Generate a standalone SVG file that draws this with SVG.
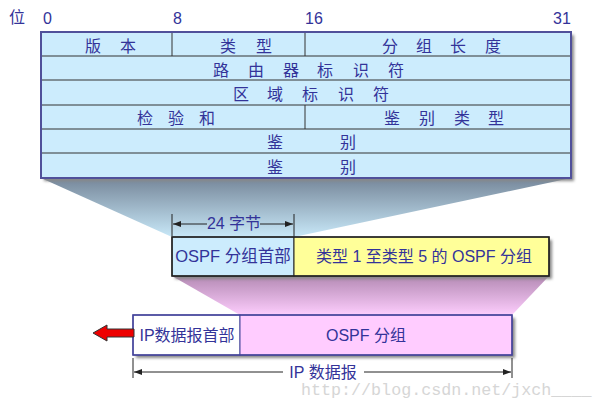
<svg xmlns="http://www.w3.org/2000/svg" width="602" height="408" viewBox="0 0 602 408">
<defs>
<style>
.t{font-family:"Liberation Sans","Noto Sans CJK SC",sans-serif;font-size:16px;fill:#333399;}
.c{text-anchor:middle;}
.ln{stroke:#333;stroke-width:1;fill:none;}
.dim{stroke:#222;stroke-width:1;fill:none;}
.wm{font-family:"Liberation Mono",monospace;font-size:16.7px;fill:#d6d6d6;}
</style>
<linearGradient id="gBlue" gradientUnits="userSpaceOnUse" x1="0" y1="178" x2="0" y2="237">
<stop offset="0" stop-color="#76879a"/>
<stop offset="1" stop-color="#c8e8f8"/>
</linearGradient>
<linearGradient id="gPink" gradientUnits="userSpaceOnUse" x1="0" y1="276" x2="0" y2="315">
<stop offset="0" stop-color="#b48ab4"/>
<stop offset="1" stop-color="#fdcdfd"/>
</linearGradient>
<filter id="sh" x="-10%" y="-10%" width="130%" height="140%">
<feGaussianBlur stdDeviation="1.5"/>
</filter>
<marker id="ah" viewBox="0 0 8 6" refX="8" refY="3" markerWidth="8" markerHeight="6" orient="auto-start-reverse" markerUnits="userSpaceOnUse">
<path d="M0,0 L8,3 L0,6 Z" fill="#222"/>
</marker>
</defs>
<rect width="602" height="408" fill="#fff"/>

<g id="bits">
<text class="t" x="9" y="23">位</text>
<text class="t" x="43" y="24">0</text>
<text class="t" x="173" y="24">8</text>
<text class="t" x="305" y="24">16</text>
<text class="t" x="553" y="24">31</text>
</g>

<g id="funnels">
<polygon points="41,178 571,178 294,237 172,237" fill="url(#gBlue)"/>
<polygon points="172,276 549,276 512,315 240,315" fill="url(#gPink)"/>
</g>

<g id="ospf-header-table">
<rect x="44" y="35" width="530" height="146" fill="#888" filter="url(#sh)"/>
<rect x="41" y="32" width="530" height="146" fill="#ccecfd"/>
<path class="ln" d="M41,56H571M41,80H571M41,105H571M41,129H571M41,153H571M172,32V56M305,32V56M305,105V129"/>
<rect x="41" y="32" width="530" height="146" fill="none" stroke="#50509a" stroke-width="2"/>
<text class="t c" x="93 128" y="51.5">版本</text>
<text class="t c" x="228 264" y="51.5">类型</text>
<text class="t c" x="390 424 458 493" y="51.5">分组长度</text>
<text class="t c" x="221 256 291 325 361 396" y="75.5">路由器标识符</text>
<text class="t c" x="241 275 310 346 381" y="99.5">区域标识符</text>
<text class="t c" x="145 176 207" y="124">检验和</text>
<text class="t c" x="392 427 462 496" y="124">鉴别类型</text>
<text class="t c" x="275 348" y="148">鉴别</text>
<text class="t c" x="275 348" y="172.5">鉴别</text>
</g>

<g id="ospf-packet">
<rect x="175" y="240" width="377" height="39" fill="#888" filter="url(#sh)"/>
<rect x="172" y="237" width="122" height="39" fill="#ccecfd" stroke="#222" stroke-width="1"/>
<rect x="294" y="237" width="255" height="39" fill="#ffff99" stroke="#222" stroke-width="1"/>
<rect x="172" y="237" width="377" height="39" fill="none" stroke="#222" stroke-width="1.5"/>
<text class="t c" x="233" y="262" style="font-size:16.5px">OSPF 分组首部</text>
<text class="t c" x="424" y="262">类型 1 至类型 5 的 OSPF 分组</text>
</g>

<g id="ip-datagram">
<rect x="136" y="318" width="379" height="40" fill="#888" filter="url(#sh)"/>
<rect x="133" y="315" width="107" height="40" fill="#ffffff" stroke="#44449a" stroke-width="1"/>
<rect x="240" y="315" width="272" height="40" fill="#ffccff" stroke="#44449a" stroke-width="1"/>
<rect x="133" y="315" width="379" height="40" fill="none" stroke="#44449a" stroke-width="1.5"/>
<text class="t c" x="187" y="341">IP数据报首部</text>
<text class="t c" x="366" y="341">OSPF 分组</text>
</g>

<g id="connectors">
<polygon points="93,333 107,325 107,329 134,329 134,337 107,337 107,341" fill="#ee0000" stroke="#333" stroke-width="1"/>
<path class="dim" d="M172,214V236M294,214V236"/>
<line class="dim" x1="207" y1="224" x2="173" y2="224" marker-end="url(#ah)"/>
<line class="dim" x1="260" y1="224" x2="293" y2="224" marker-end="url(#ah)"/>
<text class="t c" x="234" y="229">24 字节</text>
<path class="dim" d="M133,358V378M512,358V378"/>
<line class="dim" x1="283" y1="372" x2="134" y2="372" marker-end="url(#ah)"/>
<line class="dim" x1="364" y1="372" x2="511" y2="372" marker-end="url(#ah)"/>
<text class="t c" x="323" y="377.5">IP 数据报</text>
</g>

<text class="wm" x="301" y="395">http://blog.csdn.net/jxch____</text>
</svg>
